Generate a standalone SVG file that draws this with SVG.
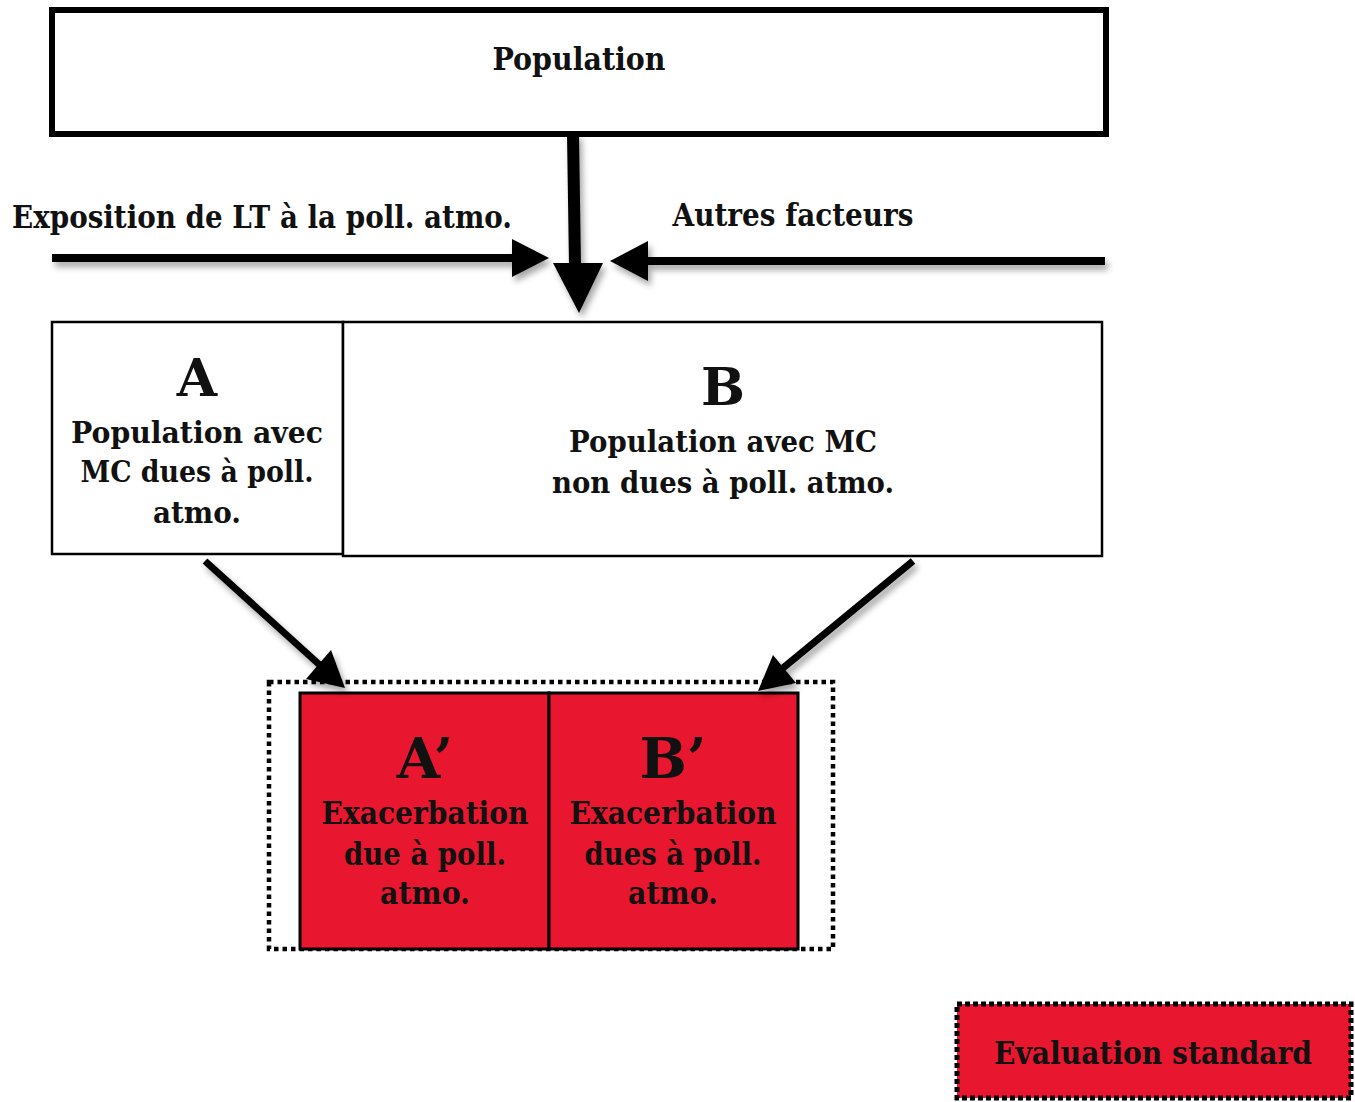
<svg xmlns="http://www.w3.org/2000/svg" width="1355" height="1102" viewBox="0 0 1355 1102">
<style>
  .t { font-family: "DejaVu Serif", "Liberation Serif", serif; font-weight: bold; fill: #111; text-anchor: middle; }
  .box { fill: #fff; stroke: #000; }
  .red { fill: #E8162E; stroke: #000; stroke-width: 3; }
  .ln { stroke: #000; fill: none; }
</style>
<defs>
  <filter id="sh" x="-20%" y="-20%" width="140%" height="160%">
    <feDropShadow dx="3" dy="5" stdDeviation="3" flood-color="#000" flood-opacity="0.35"/>
  </filter>
</defs>

<g id="population">
  <rect class="box" x="52" y="10" width="1054" height="124" stroke-width="6"/>
  <text class="t" x="579" y="70" font-size="31" textLength="173" lengthAdjust="spacingAndGlyphs">Population</text>
</g>

<g id="labels">
  <text class="t" x="262" y="228" font-size="31" textLength="500" lengthAdjust="spacingAndGlyphs">Exposition de LT à la poll. atmo.</text>
  <text class="t" x="793" y="226" font-size="31" textLength="241" lengthAdjust="spacingAndGlyphs">Autres facteurs</text>
</g>

<g id="nodeA">
  <rect class="box" x="52" y="322" width="291" height="232" stroke-width="2.5"/>
  <text class="t" x="197" y="396" font-size="52">A</text>
  <text class="t" x="197" y="443" font-size="30" textLength="252" lengthAdjust="spacingAndGlyphs">Population avec</text>
  <text class="t" x="197" y="482" font-size="30" textLength="233" lengthAdjust="spacingAndGlyphs">MC dues à poll.</text>
  <text class="t" x="197" y="523" font-size="30" textLength="88" lengthAdjust="spacingAndGlyphs">atmo.</text>
</g>

<g id="nodeB">
  <rect class="box" x="343" y="322" width="759" height="234" stroke-width="2.5"/>
  <text class="t" x="723" y="405" font-size="52">B</text>
  <text class="t" x="723" y="452" font-size="30" textLength="308" lengthAdjust="spacingAndGlyphs">Population avec MC</text>
  <text class="t" x="723" y="493" font-size="30" textLength="342" lengthAdjust="spacingAndGlyphs">non dues à poll. atmo.</text>
</g>

<g id="group-dotted">
  <rect x="269" y="682" width="564" height="267" fill="none" stroke="#000" stroke-width="4.5" stroke-dasharray="4.5 4"/>
</g>

<g id="nodeAprime">
  <rect class="red" x="300" y="693" width="249" height="256"/>
  <text class="t" x="425" y="778" font-size="56">A’</text>
  <text class="t" x="425" y="824" font-size="32" textLength="207" lengthAdjust="spacingAndGlyphs">Exacerbation</text>
  <text class="t" x="425" y="865" font-size="32" textLength="162" lengthAdjust="spacingAndGlyphs">due à poll.</text>
  <text class="t" x="425" y="904" font-size="32" textLength="90" lengthAdjust="spacingAndGlyphs">atmo.</text>
</g>

<g id="nodeBprime">
  <rect class="red" x="549" y="693" width="249" height="256"/>
  <text class="t" x="673" y="778" font-size="56">B’</text>
  <text class="t" x="673" y="824" font-size="32" textLength="207" lengthAdjust="spacingAndGlyphs">Exacerbation</text>
  <text class="t" x="673" y="865" font-size="32" textLength="177" lengthAdjust="spacingAndGlyphs">dues à poll.</text>
  <text class="t" x="673" y="904" font-size="32" textLength="90" lengthAdjust="spacingAndGlyphs">atmo.</text>
</g>

<g id="legend">
  <rect x="957" y="1004" width="394" height="94" fill="#E8162E" stroke="#000" stroke-width="5" stroke-dasharray="5 3"/>
  <text class="t" x="1153" y="1064" font-size="32" textLength="318" lengthAdjust="spacingAndGlyphs">Evaluation standard</text>
</g>

<g id="connectors" filter="url(#sh)">
  <line class="ln" x1="573" y1="134" x2="575" y2="266" stroke-width="12"/>
  <polygon points="553,263 603,263 579,313" fill="#000"/>
  <line class="ln" x1="52" y1="258" x2="516" y2="258" stroke-width="8"/>
  <polygon points="512,239 549,258 512,277" fill="#000"/>
  <line class="ln" x1="1105" y1="261" x2="645" y2="261" stroke-width="8"/>
  <polygon points="648,241 610,261 648,281" fill="#000"/>
  <line class="ln" x1="205" y1="561" x2="322" y2="667" stroke-width="7"/>
  <polygon points="306,679 331,650 345,688" fill="#000"/>
  <line class="ln" x1="913" y1="561" x2="783" y2="668" stroke-width="7"/>
  <polygon points="773,655 796,683 758,691" fill="#000"/>
</g>
</svg>
